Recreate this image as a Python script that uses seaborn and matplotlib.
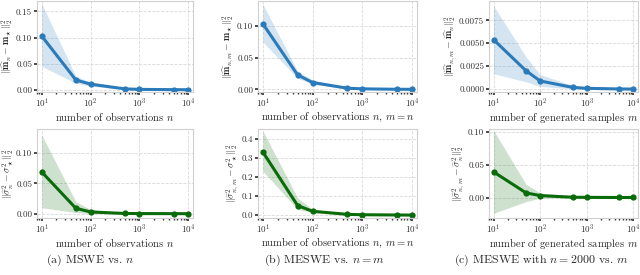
import numpy as np
import matplotlib
matplotlib.use("Agg")
import matplotlib.pyplot as plt
import seaborn as sns

# ==========================================================
# DATA
# ==========================================================

sizes = [10, 50, 100, 500, 1000, 5000, 10000]

# (a) MSWE vs n
a_mean_mean = [0.103, 0.019, 0.011, 0.002, 0.001, 0.0005, 0.0003]
a_mean_low = [0.045, 0.013, 0.007, 0.001, 0.0005, 0.0002, 0.0001]
a_mean_high = [0.165, 0.026, 0.015, 0.003, 0.0015, 0.0008, 0.0005]
a_var_mean = [0.069, 0.009, 0.003, 0.0005, 0.0003, 0.0002, 0.0001]
a_var_low = [0.010, 0.002, 0.000, 0.0001, 0.0001, 0.0, 0.0]
a_var_high = [0.130, 0.020, 0.007, 0.001, 0.0006, 0.0003, 0.0002]

# (b) MESWE vs n = m
b_mean_mean = [0.104, 0.023, 0.011, 0.002, 0.001, 0.0003, 0.0002]
b_mean_low = [0.075, 0.018, 0.008, 0.001, 0.0006, 0.0002, 0.0001]
b_mean_high = [0.135, 0.029, 0.015, 0.003, 0.0015, 0.0005, 0.0003]
b_var_mean = [0.330, 0.050, 0.020, 0.004, 0.002, 0.0007, 0.0004]
b_var_low = [0.230, 0.030, 0.013, 0.002, 0.001, 0.0003, 0.0002]
b_var_high = [0.440, 0.090, 0.030, 0.007, 0.003, 0.0012, 0.0007]

# (c) MESWE with n = 2000 vs m
c_mean_mean = [0.0054, 0.0020, 0.0009, 0.0002, 0.0001, 0.00003, 0.00002]
c_mean_low = [0.0017, 0.0008, 0.0003, 0.00005, 0.00002, 0.0, 0.0]
c_mean_high = [0.0091, 0.0035, 0.0016, 0.0004, 0.0002, 0.00006, 0.00004]
c_var_mean = [0.039, 0.007, 0.003, 0.0005, 0.0003, 0.0001, 0.0001]
c_var_low = [-0.024, -0.006, -0.001, -0.0002, -0.0001, 0.0, 0.0]
c_var_high = [0.102, 0.020, 0.007, 0.002, 0.001, 0.0003, 0.0002]

# ==========================================================
# STYLE
# ==========================================================

sns.set_theme(style="whitegrid", rc={
    "grid.linestyle": "--",
    "grid.color": "#d9d9d9",
    "grid.linewidth": 0.6,
    "axes.edgecolor": "#d0d0d0",
    "axes.linewidth": 0.8,
    "xtick.bottom": True,
    "ytick.left": True,
    "xtick.major.size": 2.5,
    "xtick.minor.size": 1.5,
    "ytick.major.size": 2.5,
    "xtick.color": "#333333",
    "ytick.color": "#333333",
    "xtick.minor.visible": True,
})
plt.rcParams["font.family"] = ["cmr10", "DejaVu Serif"]
plt.rcParams["mathtext.fontset"] = "cm"
plt.rcParams["axes.formatter.use_mathtext"] = True
plt.rcParams["axes.unicode_minus"] = False

BLUE = "#2b7bba"
GREEN = "#0a6b0a"

fig = plt.figure(figsize=(6.4, 2.75), dpi=100)

W, H = 640, 275


def box(x0, x1, y0, y1):
    return [x0 / W, 1 - y1 / H, (x1 - x0) / W, (y1 - y0) / H]


panels = [
    (box(37, 193, 1, 92), a_mean_mean, a_mean_low, a_mean_high, BLUE,
     r"$\|\widehat{\mathbf{m}}_n - \mathbf{m}_\star\|_2^2$",
     r"number of observations $n$", (-0.004, 0.17), [0.0, 0.05, 0.10, 0.15], "%.2f"),
    (box(258, 417, 1, 92), b_mean_mean, b_mean_low, b_mean_high, BLUE,
     r"$\|\widehat{\mathbf{m}}_{n,m} - \mathbf{m}_\star\|_2^2$",
     r"number of observations $n$, $m = n$", (-0.004, 0.14), [0.0, 0.05, 0.10], "%.2f"),
    (box(489, 638, 1, 92), c_mean_mean, c_mean_low, c_mean_high, BLUE,
     r"$\|\widehat{\mathbf{m}}_{n,m} - \widehat{\mathbf{m}}_n\|_2^2$",
     r"number of generated samples $m$", (-0.0003, 0.0096), [0.0, 0.0025, 0.005, 0.0075], "%.4f"),
    (box(37, 193, 129, 218), a_var_mean, a_var_low, a_var_high, GREEN,
     r"$\|\widehat{\sigma}^2_n - \sigma^2_\star\|_2^2$",
     r"number of observations $n$", (-0.007, 0.14), [0.0, 0.05, 0.10], "%.2f"),
    (box(258, 417, 129, 218), b_var_mean, b_var_low, b_var_high, GREEN,
     r"$\|\widehat{\sigma}^2_{n,m} - \sigma^2_\star\|_2^2$",
     r"number of observations $n$, $m = n$", (-0.015, 0.45), [0.0, 0.1, 0.2, 0.3, 0.4], "%.1f"),
    (box(489, 638, 129, 218), c_var_mean, c_var_low, c_var_high, GREEN,
     r"$\|\widehat{\sigma}^2_{n,m} - \widehat{\sigma}^2_n\|_2^2$",
     r"number of generated samples $m$", (-0.031, 0.104), [0.0, 0.05, 0.10], "%.2f"),
]

for rect, mean, low, high, color, ylab, xlab, ylim, yticks, fmt in panels:
    ax = fig.add_axes(rect)
    ax.fill_between(sizes, low, high, color=color, alpha=0.2, linewidth=0)
    sns.lineplot(x=sizes, y=mean, ax=ax, color=color, linewidth=2.2,
                 marker="o", markersize=4.5, markeredgewidth=0)
    ax.set_xscale("log")
    ax.set_xlim(8, 12500)
    ax.set_ylim(*ylim)
    ax.set_yticks(yticks)
    ax.yaxis.set_major_formatter(matplotlib.ticker.FormatStrFormatter(fmt))
    ax.grid(which="minor", visible=False)
    ax.tick_params(labelsize=6.5, pad=1)
    ax.tick_params(axis="x", pad=0.5)
    ax.set_xlabel(xlab, fontsize=7.6, labelpad=0)
    ax.set_ylabel(ylab, fontsize=7, labelpad=0)

fig.text(90 / W, 1 - 260 / H, r"(a) MSWE vs. $n$", ha="center", va="center", fontsize=8.6)
fig.text(324 / W, 1 - 260 / H, r"(b) MESWE vs. $n = m$", ha="center", va="center", fontsize=8.6)
fig.text(541 / W, 1 - 260 / H, r"(c) MESWE with $n = 2000$ vs. $m$", ha="center", va="center", fontsize=8.6)

fig.savefig("out.png", dpi=100)
